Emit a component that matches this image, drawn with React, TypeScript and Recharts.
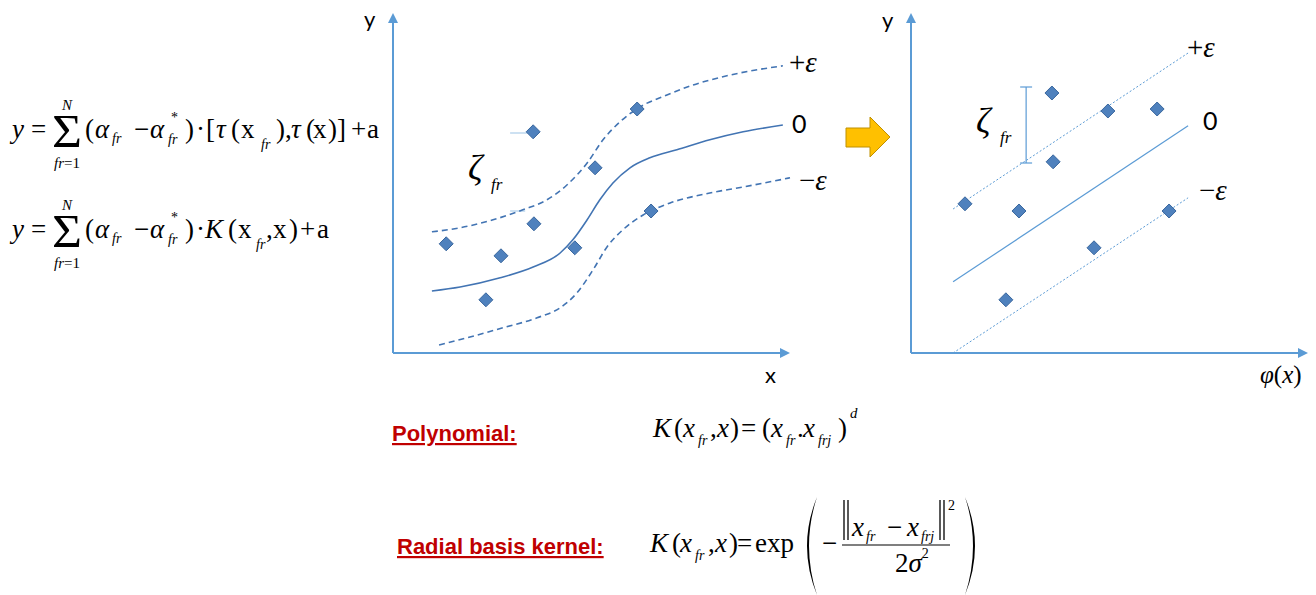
import React from "react";
import { ComposedChart, Line, Scatter, XAxis, YAxis, ReferenceLine, ReferenceDot } from "recharts";

// samples in the original input space x (left) and after the kernel map φ(x) (right)
const leftPoints = [
  { x: 1.34, y: 2.73 }, { x: 2.34, y: 1.33 }, { x: 2.72, y: 2.43 },
  { x: 3.53, y: 5.53 }, { x: 3.55, y: 3.23 }, { x: 4.58, y: 2.63 },
  { x: 5.09, y: 4.63 }, { x: 6.15, y: 6.1 }, { x: 6.5, y: 3.55 },
];
const leftFit = [
  { x: 0.98, y: 1.55 }, { x: 1.69, y: 1.65 }, { x: 2.7, y: 1.88 }, { x: 3.53, y: 2.15 },
  { x: 4.21, y: 2.5 }, { x: 4.53, y: 2.83 }, { x: 4.89, y: 3.33 }, { x: 5.21, y: 3.83 },
  { x: 5.54, y: 4.25 }, { x: 5.97, y: 4.63 }, { x: 6.47, y: 4.88 }, { x: 7.15, y: 5.08 },
  { x: 7.98, y: 5.33 }, { x: 8.82, y: 5.53 }, { x: 9.82, y: 5.7 },
];
const leftUpper = [
  { x: 0.98, y: 3.03 }, { x: 1.69, y: 3.13 }, { x: 2.52, y: 3.33 }, { x: 3.27, y: 3.58 },
  { x: 3.88, y: 3.83 }, { x: 4.38, y: 4.2 }, { x: 4.89, y: 4.75 }, { x: 5.29, y: 5.33 },
  { x: 5.72, y: 5.78 }, { x: 6.22, y: 6.15 }, { x: 6.9, y: 6.45 }, { x: 7.56, y: 6.7 },
  { x: 8.41, y: 6.93 }, { x: 9.82, y: 7.18 },
];
const leftLower = [
  { x: 1.16, y: 0.2 }, { x: 1.94, y: 0.4 }, { x: 2.77, y: 0.63 }, { x: 3.63, y: 0.88 },
  { x: 4.21, y: 1.13 }, { x: 4.63, y: 1.5 }, { x: 5.04, y: 2.08 }, { x: 5.39, y: 2.65 },
  { x: 5.79, y: 3.08 }, { x: 6.3, y: 3.45 }, { x: 6.98, y: 3.75 }, { x: 7.98, y: 4.0 },
  { x: 8.82, y: 4.15 }, { x: 10.0, y: 4.38 },
];

const rightPoints = [
  { x: 1.36, y: 3.73 }, { x: 2.39, y: 1.33 }, { x: 2.72, y: 3.55 },
  { x: 3.55, y: 6.5 }, { x: 3.58, y: 4.78 }, { x: 4.61, y: 2.63 },
  { x: 4.96, y: 6.05 }, { x: 6.2, y: 6.1 }, { x: 6.5, y: 3.55 },
];
const rightFit = [{ x: 1.06, y: 1.78 }, { x: 6.98, y: 5.68 }];
const rightUpper = [{ x: 1.06, y: 3.6 }, { x: 6.98, y: 7.5 }];
const rightLower = [{ x: 1.06, y: 0.0 }, { x: 6.98, y: 3.88 }];

const X_MAX = 10;
const Y_MAX = 8.5;
const AXIS = "#5B9BD5";
const CURVE = "#4274B3";
const SERIF = "'Liberation Serif', 'Times New Roman', serif";
const SANS = "Lato, 'Liberation Sans', sans-serif";

function Diamond(props: any) {
  const { cx, cy } = props;
  const r = 7;
  return (
    <polygon
      points={`${cx},${cy - r} ${cx + r},${cy} ${cx},${cy + r} ${cx - r},${cy}`}
      fill="#4F81BD"
      stroke="#3A679E"
      strokeWidth={1}
    />
  );
}

const ArrowUp = (p: any) => (
  <polygon points={`${p.cx},${p.cy} ${p.cx - 5},${p.cy + 10} ${p.cx + 5},${p.cy + 10}`} fill={AXIS} />
);
const ArrowRight = (p: any) => (
  <polygon points={`${p.cx},${p.cy} ${p.cx - 10},${p.cy - 5} ${p.cx - 10},${p.cy + 5}`} fill={AXIS} />
);

function Axes() {
  return [
    <ReferenceLine key="ya" segment={[{ x: 0, y: 0 }, { x: 0, y: Y_MAX - 0.2 }]} stroke={AXIS} strokeWidth={2} />,
    <ReferenceLine key="xa" segment={[{ x: 0, y: 0 }, { x: X_MAX - 0.2, y: 0 }]} stroke={AXIS} strokeWidth={2} />,
    <ReferenceDot key="yh" x={0} y={Y_MAX} shape={ArrowUp} />,
    <ReferenceDot key="xh" x={X_MAX} y={0} shape={ArrowRight} />,
  ];
}

type Part = { t: string; x?: number; i?: boolean; s?: number; o?: number };

function Formula({ y, size, parts }: { y: number; size: number; parts: Part[] }) {
  let cur = 0;
  return (
    <text y={y} fontFamily={SERIF} fontSize={size} fill="#000">
      {parts.map((p, k) => {
        const off = p.o ?? 0;
        const dy = off - cur;
        cur = off;
        return (
          <tspan
            key={k}
            x={p.x}
            dy={dy || undefined}
            fontStyle={p.i ? "italic" : undefined}
            fontSize={p.s ? size * p.s : undefined}
          >
            {p.t}
          </tspan>
        );
      })}
    </text>
  );
}

function SumSign({ y }: { y: number }) {
  return (
    <g fontFamily={SERIF}>
      <text x={12} y={y} fontSize={27} fontStyle="italic">y</text>
      <text x={31} y={y} fontSize={27}>=</text>
      <text transform={`translate(52,${y + 9}) scale(1.12,1)`} fontSize={46}>Σ</text>
      <text x={62} y={y - 28} fontSize={15} fontStyle="italic">N</text>
      <text x={54} y={y + 30} fontSize={15}>
        <tspan fontStyle="italic">fr</tspan>=1
      </text>
    </g>
  );
}

const sub = 0.52;
const formula1: Part[] = [
  { t: "(", x: 85 }, { t: "α", x: 95, i: true }, { t: "fr", x: 112, i: true, s: sub, o: 5 },
  { t: "−", x: 134 }, { t: "α", x: 150, i: true }, { t: "fr", x: 168, i: true, s: sub, o: 6 },
  { t: "*", x: 171, s: sub, o: -16 },
  { t: ")", x: 185 }, { t: "·", x: 196 }, { t: "[", x: 206 }, { t: "τ", x: 216, i: true },
  { t: "(", x: 231 }, { t: "x", x: 241 }, { t: "fr", x: 261, i: true, s: sub, o: 11 },
  { t: ")", x: 276 }, { t: ",", x: 285 }, { t: "τ", x: 291, i: true }, { t: "(", x: 306 },
  { t: "x", x: 313 }, { t: ")", x: 328 }, { t: "]", x: 337 }, { t: "+", x: 351 }, { t: "a", x: 367 },
];
const formula2: Part[] = [
  { t: "(", x: 85 }, { t: "α", x: 95, i: true }, { t: "fr", x: 112, i: true, s: sub, o: 5 },
  { t: "−", x: 134 }, { t: "α", x: 150, i: true }, { t: "fr", x: 168, i: true, s: sub, o: 6 },
  { t: "*", x: 171, s: sub, o: -16 },
  { t: ")", x: 185 }, { t: "·", x: 196 }, { t: "K", x: 205, i: true }, { t: "(", x: 228 },
  { t: "x", x: 238 }, { t: "fr", x: 256, i: true, s: sub, o: 11 }, { t: ",", x: 266 },
  { t: "x", x: 273 }, { t: ")", x: 289 }, { t: "+", x: 300 }, { t: "a", x: 317 },
];
const polyParts: Part[] = [
  { t: "K", x: 653, i: true }, { t: "(", x: 674 }, { t: "x", x: 683, i: true },
  { t: "fr", x: 698, i: true, s: sub, o: 8 }, { t: ",", x: 710 }, { t: "x", x: 717, i: true },
  { t: ")", x: 730 }, { t: "=", x: 741 }, { t: "(", x: 762 }, { t: "x", x: 771, i: true },
  { t: "fr", x: 786, i: true, s: sub, o: 8 }, { t: ".", x: 797 }, { t: "x", x: 803, i: true },
  { t: "frj", x: 818, i: true, s: sub, o: 8 }, { t: ")", x: 838 }, { t: "d", x: 850, i: true, s: 0.55, o: -19 },
];
const rbfParts: Part[] = [
  { t: "K", x: 650, i: true }, { t: "(", x: 672 }, { t: "x", x: 680, i: true },
  { t: "fr", x: 695, i: true, s: sub, o: 8 }, { t: ",", x: 708 }, { t: "x", x: 715, i: true },
  { t: ")", x: 729 }, { t: "=", x: 737 }, { t: "exp", x: 755 }, { t: "−", x: 822, o: 0 },
];
const numParts: Part[] = [
  { t: "x", x: 852, i: true }, { t: "fr", x: 866, i: true, s: sub, o: 5 }, { t: "−", x: 887, o: 0 },
  { t: "x", x: 907, i: true }, { t: "frj", x: 921, i: true, s: sub, o: 5 },
  { t: "2", x: 948, s: sub, o: -26 },
];

function Overlay() {
  return (
    <svg width={1316} height={595} style={{ position: "absolute", left: 0, top: 0 }}>
      <SumSign y={138} />
      <Formula y={138} size={27} parts={formula1} />
      <SumSign y={238} />
      <Formula y={238} size={27} parts={formula2} />

      {/* chart annotations */}
      <g fontFamily={SANS} fontSize={22} fill="#000">
        <text x={364} y={27}>y</text>
        <text x={765} y={383}>x</text>
        <text x={882} y={28}>y</text>
        <text x={792} y={133} fontSize={25}>0</text>
        <text x={1203} y={130} fontSize={25}>0</text>
      </g>
      <g fontFamily={SERIF} fontSize={29} fill="#000">
        <text x={789} y={72}>+<tspan fontStyle="italic">ε</tspan></text>
        <text x={799} y={190}>−<tspan fontStyle="italic">ε</tspan></text>
        <text x={1187} y={57}>+<tspan fontStyle="italic">ε</tspan></text>
        <text x={1199} y={200}>−<tspan fontStyle="italic">ε</tspan></text>
        <text x={468} y={180} fontSize={36} fontStyle="italic">ζ</text>
        <text x={491} y={190} fontSize={17} fontStyle="italic">fr</text>
        <text x={976} y={133} fontSize={36} fontStyle="italic">ζ</text>
        <text x={1000} y={143} fontSize={17} fontStyle="italic">fr</text>
        <text x={1260} y={383} fontSize={25} fontStyle="italic">φ<tspan fontStyle="normal">(</tspan>x<tspan fontStyle="normal">)</tspan></text>
      </g>

      <polygon
        points="846,128 870,128 870,117 890,137 870,157 870,147 846,147"
        fill="#FFC000"
        stroke="#BF9000"
        strokeWidth={1}
      />

      {/* kernel definitions */}
      <g fontFamily="'Liberation Sans', Arial, sans-serif" fontWeight="bold" fontSize={22} fill="#C00000">
        <text x={392} y={441} textDecoration="underline">Polynomial:</text>
        <text x={397} y={554} textDecoration="underline">Radial basis kernel:</text>
      </g>
      <Formula y={437} size={27} parts={polyParts} />
      <Formula y={552} size={27} parts={rbfParts} />
      <path d="M817,497 Q797,546 817,595 Q801,546 817,497 Z" fill="#000" />
      <path d="M965,497 Q985,546 965,595 Q981,546 965,497 Z" fill="#000" />
      <line x1={842} x2={950} y1={545} y2={545} stroke="#000" strokeWidth={1.2} />
      <g stroke="#000" strokeWidth={1.3}>
        <line x1={844} x2={844} y1={500} y2={540} />
        <line x1={848} x2={848} y1={500} y2={540} />
        <line x1={940} x2={940} y1={500} y2={540} />
        <line x1={944} x2={944} y1={500} y2={540} />
      </g>
      <Formula y={536} size={27} parts={numParts} />
      <text x={895} y={572} fontFamily={SERIF} fontSize={27}>
        2<tspan fontStyle="italic">σ</tspan>
        <tspan fontSize={14} dy={-14}>2</tspan>
      </text>
    </svg>
  );
}

const chartMargin = { top: 10, right: 10, bottom: 10, left: 10 };

function InputSpaceChart() {
  return (
    <div style={{ position: "absolute", left: 383, top: 3 }}>
      <ComposedChart width={417} height={360} margin={chartMargin}>
        <XAxis type="number" dataKey="x" domain={[0, X_MAX]} hide />
        <YAxis type="number" domain={[0, Y_MAX]} hide />
        {Axes()}
        <ReferenceLine segment={[{ x: 2.95, y: 5.5 }, { x: 3.45, y: 5.5 }]} stroke="#BDD7EE" strokeWidth={1.5} />
        <ReferenceLine segment={[{ x: 2.95, y: 3.55 }, { x: 3.33, y: 3.55 }]} stroke="#BDD7EE" strokeWidth={1.5} />
        <Line data={leftUpper} dataKey="y" type="monotone" stroke={CURVE} strokeWidth={1.6} strokeDasharray="6 4" dot={false} activeDot={false} isAnimationActive={false} />
        <Line data={leftFit} dataKey="y" type="monotone" stroke={CURVE} strokeWidth={1.6} dot={false} activeDot={false} isAnimationActive={false} />
        <Line data={leftLower} dataKey="y" type="monotone" stroke={CURVE} strokeWidth={1.6} strokeDasharray="6 4" dot={false} activeDot={false} isAnimationActive={false} />
        <Scatter data={leftPoints} dataKey="y" shape={Diamond} isAnimationActive={false} />
      </ComposedChart>
    </div>
  );
}

function FeatureSpaceChart() {
  return (
    <div style={{ position: "absolute", left: 901, top: 3 }}>
      <ComposedChart width={417} height={360} margin={chartMargin}>
        <XAxis type="number" dataKey="x" domain={[0, X_MAX]} hide />
        <YAxis type="number" domain={[0, Y_MAX]} hide />
        {Axes()}
        <ReferenceLine segment={[{ x: 2.9, y: 4.75 }, { x: 2.9, y: 6.65 }]} stroke={AXIS} strokeWidth={1.2} />
        <ReferenceLine segment={[{ x: 2.75, y: 6.65 }, { x: 3.05, y: 6.65 }]} stroke={AXIS} strokeWidth={1.2} />
        <ReferenceLine segment={[{ x: 2.75, y: 4.75 }, { x: 3.05, y: 4.75 }]} stroke={AXIS} strokeWidth={1.2} />
        <Line data={rightUpper} dataKey="y" type="linear" stroke={AXIS} strokeWidth={1} strokeDasharray="2 2" dot={false} activeDot={false} isAnimationActive={false} />
        <Line data={rightFit} dataKey="y" type="linear" stroke={AXIS} strokeWidth={1.2} dot={false} activeDot={false} isAnimationActive={false} />
        <Line data={rightLower} dataKey="y" type="linear" stroke={AXIS} strokeWidth={1} strokeDasharray="2 2" dot={false} activeDot={false} isAnimationActive={false} />
        <Scatter data={rightPoints} dataKey="y" shape={Diamond} isAnimationActive={false} />
      </ComposedChart>
    </div>
  );
}

export default function App() {
  return (
    <div style={{ position: "absolute", left: 0, top: 0, width: 1316, height: 595, background: "#fff", overflow: "hidden" }}>
      <Overlay />
      <InputSpaceChart />
      <FeatureSpaceChart />
    </div>
  );
}
